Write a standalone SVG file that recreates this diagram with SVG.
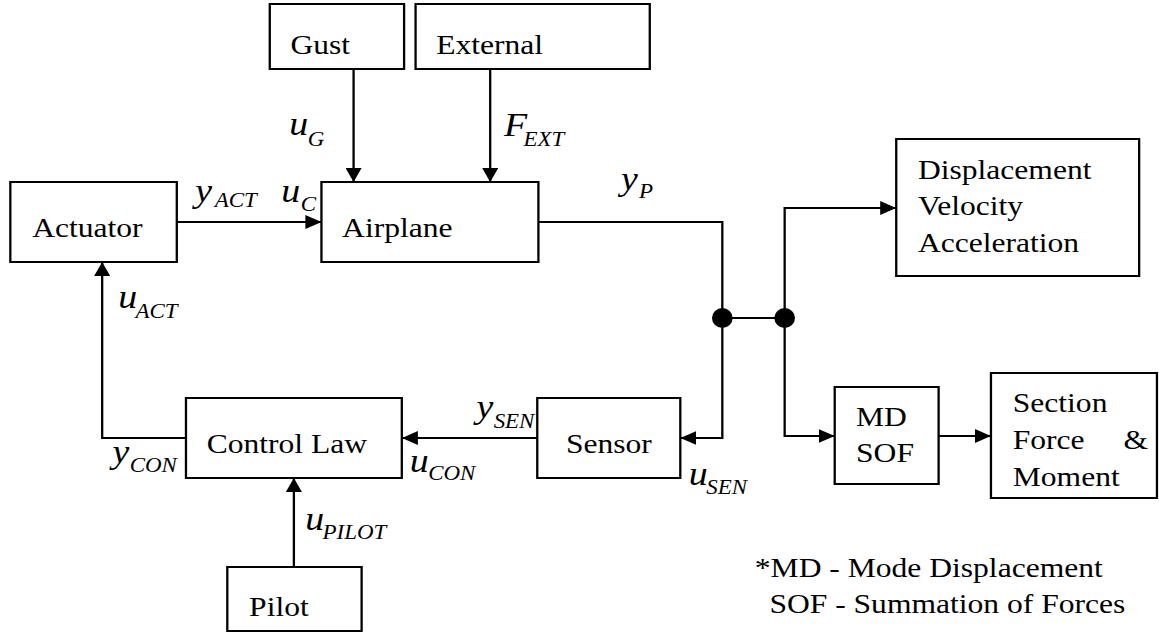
<svg xmlns="http://www.w3.org/2000/svg" width="1159" height="632" viewBox="0 0 1159 632">
<style>
.box{fill:#fff;stroke:#000;stroke-width:2}
.lbl{font-size:27.5px}
.m{font-style:italic;font-size:33px}
.s{font-style:italic;font-size:20px}
.ln{fill:none;stroke:#000;stroke-width:2}
</style>
<defs>
<marker id="ah" markerUnits="userSpaceOnUse" markerWidth="14" markerHeight="14" refX="14" refY="7" orient="auto">
<path d="M0,0 L14,7 L0,14 z" fill="#000"/>
</marker>
</defs>
<rect width="1159" height="632" fill="#fff"/>
<g transform="scale(1.148,1)" font-family="Liberation Serif, Times New Roman, serif" fill="#000">
<g id="connectors">
<path class="ln" d="M308,69 V182" marker-end="url(#ah)"/>
<path class="ln" d="M427,69 V182" marker-end="url(#ah)"/>
<path class="ln" d="M154,222 H280" marker-end="url(#ah)"/>
<path class="ln" d="M469,222 H629.2 V438 H592.6" marker-end="url(#ah)"/>
<path class="ln" d="M629.2,318 H683.5"/>
<path class="ln" d="M683.5,318 V208 H780.7" marker-end="url(#ah)"/>
<path class="ln" d="M683.5,318 V436 H727.1" marker-end="url(#ah)"/>
<path class="ln" d="M817.6,436 H863.2" marker-end="url(#ah)"/>
<path class="ln" d="M468,438 H350" marker-end="url(#ah)"/>
<path class="ln" d="M162,438 H89 V262" marker-end="url(#ah)"/>
<path class="ln" d="M256,567 V478" marker-end="url(#ah)"/>
<ellipse cx="629.2" cy="318" rx="9" ry="10" fill="#000"/>
<ellipse cx="683.5" cy="318" rx="9" ry="10" fill="#000"/>
</g>
<g id="gust"><rect class="box" x="235" y="4" width="117" height="65"/><text class="lbl" x="253" y="54">Gust</text></g>
<g id="external"><rect class="box" x="362" y="4" width="204" height="65"/><text class="lbl" x="380" y="54">External</text></g>
<g id="actuator"><rect class="box" x="9" y="182" width="145" height="80"/><text class="lbl" x="28" y="237">Actuator</text></g>
<g id="airplane"><rect class="box" x="280" y="182" width="189" height="80"/><text class="lbl" x="298" y="237">Airplane</text></g>
<g id="outputs"><rect class="box" x="780.7" y="139" width="211.6" height="137"/>
<text class="lbl" x="799.6" y="179">Displacement</text><text class="lbl" x="799.6" y="215">Velocity</text><text class="lbl" x="799.6" y="252">Acceleration</text></g>
<g id="controllaw"><rect class="box" x="162" y="398" width="188" height="80"/><text class="lbl" x="180" y="453">Control Law</text></g>
<g id="sensor"><rect class="box" x="468" y="398" width="124.6" height="80"/><text class="lbl" x="493" y="453">Sensor</text></g>
<g id="pilot"><rect class="box" x="198" y="567" width="117" height="64"/><text class="lbl" x="217" y="616">Pilot</text></g>
<g id="mdsof"><rect class="box" x="727.1" y="387" width="90.5" height="97"/><text class="lbl" x="745.7" y="426">MD</text><text class="lbl" x="745.7" y="462">SOF</text></g>
<g id="section"><rect class="box" x="863.2" y="373" width="144.6" height="125"/>
<text class="lbl" x="882.2" y="412">Section</text><text class="lbl" x="882.2" y="449">Force</text><text class="lbl" x="978.7" y="449">&amp;</text><text class="lbl" x="882.2" y="486">Moment</text></g>
<g id="notes">
<text class="lbl" x="657.5" y="577">*MD - Mode Displacement</text>
<text class="lbl" x="670.2" y="613">SOF - Summation of Forces</text>
</g>
<g id="signals">
<text class="m" x="252" y="135">u</text><text class="s" x="268" y="146">G</text>
<text class="m" x="439" y="136">F</text><text class="s" x="456" y="146">EXT</text>
<text class="m" x="170" y="202">y</text><text class="s" x="187" y="207">ACT</text>
<text class="m" x="245" y="202">u</text><text class="s" x="262" y="211">C</text>
<text class="m" x="541" y="190">y</text><text class="s" x="556.7" y="198">P</text>
<text class="m" x="103" y="308">u</text><text class="s" x="118" y="318">ACT</text>
<text class="m" x="98" y="463">y</text><text class="s" x="113" y="472">CON</text>
<text class="m" x="357" y="472">u</text><text class="s" x="373" y="480">CON</text>
<text class="m" x="415" y="418">y</text><text class="s" x="430" y="428">SEN</text>
<text class="m" x="266" y="530">u</text><text class="s" x="281" y="539">PILOT</text>
<text class="m" x="600" y="485">u</text><text class="s" x="615.3" y="494">SEN</text>
</g>
</g>
</svg>
